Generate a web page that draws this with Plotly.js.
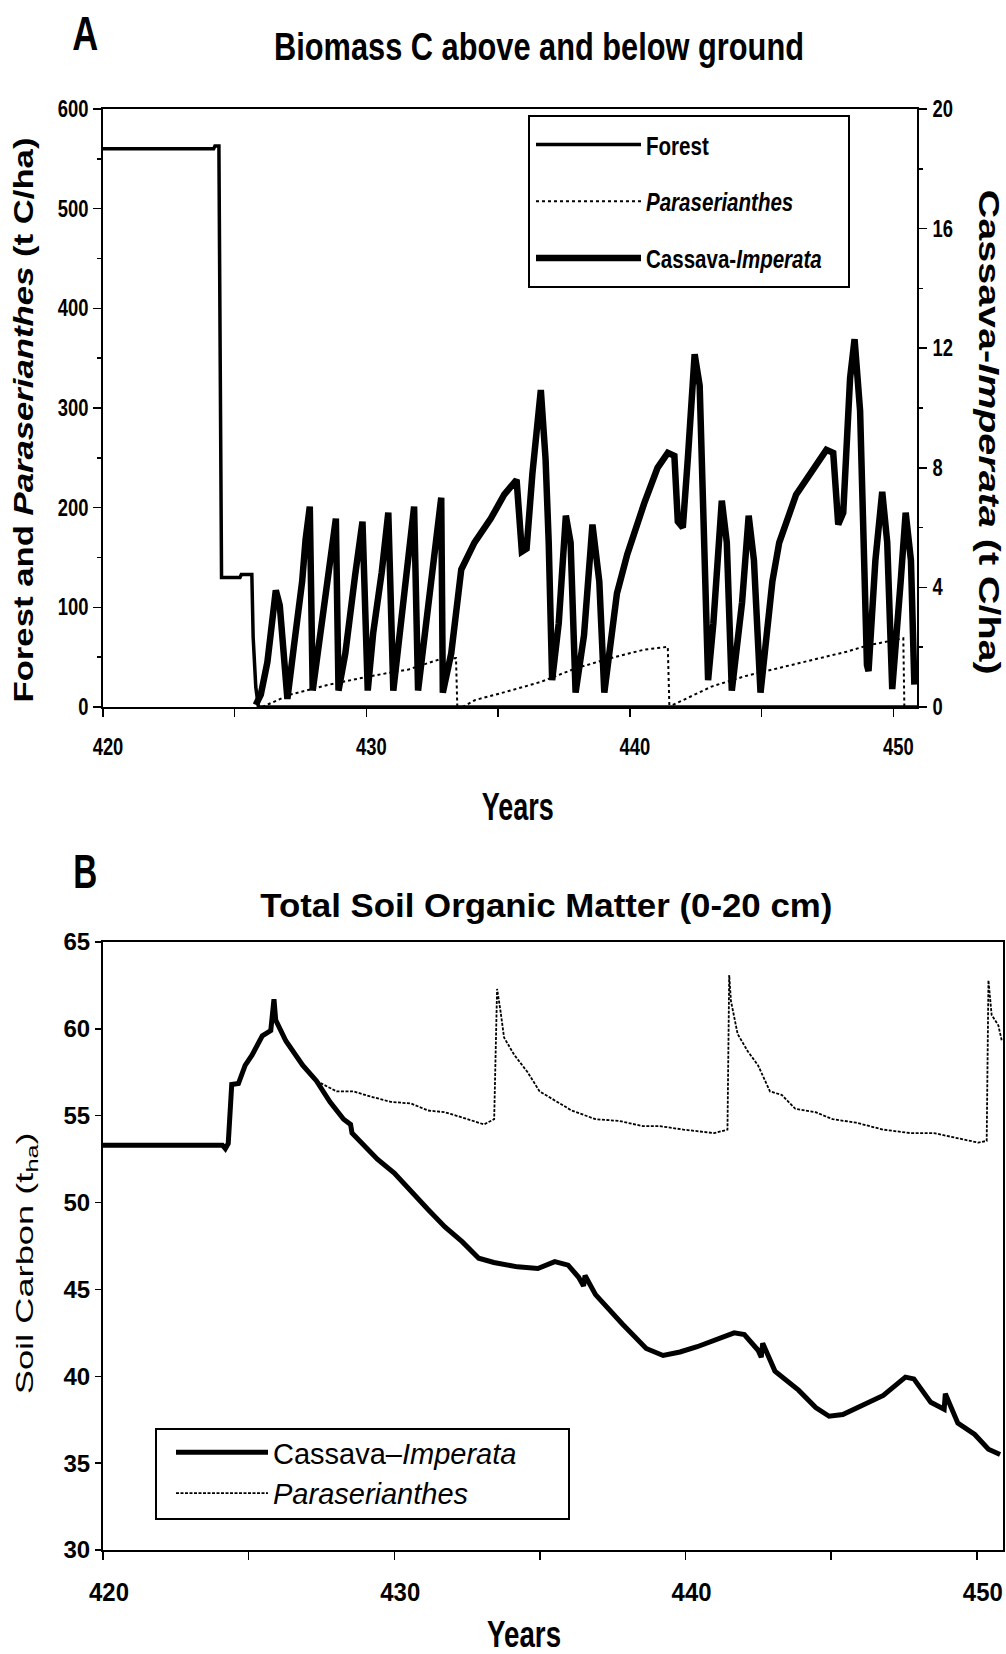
<!DOCTYPE html>
<html><head><meta charset="utf-8">
<script src="https://cdn.plot.ly/plotly-3.0.1.min.js"></script>
<style>html,body{margin:0;padding:0;background:#fff;} #chart{width:1006px;height:1654px;}</style>
</head><body><div id="chart"></div>
<script>
// ---------- Panel A: biomass C ----------
const forestYears = [420, 424.2, 424.25, 424.4, 424.45, 424.5, 425.2, 425.25, 425.65, 425.7, 425.8, 425.9, 450.9];
const forestC     = [560, 560, 563, 563, 344, 130, 130, 133, 133, 70, 20, 0, 0];

const paraYearsA = [426.05, 427.05, 428.6, 430.1, 431.6, 432.8, 433.4, 433.45, null,
                    433.65, 434.13, 435.4, 436.6, 437.97, 439.26, 440.54, 441.44, 441.5, null,
                    441.63, 443.1, 444.38, 445.67, 446.95, 448.23, 449.0, 450.28, 450.38, 450.42];
const paraCA     = [0, 12, 22.5, 30.7, 37.7, 48, 49, 0, null,
                    0, 7, 16, 25, 39, 49, 57.5, 60.4, 0, null,
                    2, 20.5, 31, 39, 47, 55.5, 61.6, 69, 69, 0];

const cassavaYearsA = [425.80, 425.99, 426.24, 426.56, 426.71, 426.87, 427.0, 427.25, 427.56, 427.69, 427.85, 427.96,
  428.19, 428.57, 428.84, 428.94, 429.2, 429.57, 429.85, 430.05, 430.26, 430.58, 430.83, 431.02, 431.27, 431.58,
  431.81, 431.96, 432.21, 432.52, 432.84, 432.9, 433.22, 433.6, 434.1, 434.72, 435.23, 435.7, 435.9, 436.08,
  436.3, 436.62, 436.8, 436.92, 437.05, 437.3, 437.57, 437.75, 437.94, 438.26, 438.58, 438.84, 439.03, 439.51,
  439.9, 440.54, 441.05, 441.44, 441.69, 441.82, 442.01, 442.2, 442.46, 442.65, 442.85, 442.97, 443.17, 443.49,
  443.68, 443.87, 444.26, 444.51, 444.71, 444.96, 445.41, 445.67, 446.31, 446.95, 447.46, 447.72, 447.91, 448.1,
  448.36, 448.53, 448.74, 449.0, 449.06, 449.32, 449.58, 449.77, 449.96, 450.28, 450.47, 450.67, 450.8];
const cassavaCA = [0.07, 0.41, 1.5, 3.9, 3.4, 1.5, 0.27, 2.05, 4.2, 5.6, 6.7, 0.55,
  2.05, 4.2, 6.3, 0.55, 1.8, 4.4, 6.2, 0.55, 2.5, 4.5, 6.5, 0.55, 2.5, 4.5,
  6.7, 0.55, 2.5, 4.8, 7.0, 0.48, 1.8, 4.6, 5.5, 6.3, 7.1, 7.6, 5.2, 5.3,
  7.8, 10.6, 8.3, 5.5, 0.9, 2.8, 6.4, 5.5, 0.48, 2.4, 6.1, 4.2, 0.48, 3.8,
  5.1, 6.8, 8.0, 8.5, 8.4, 6.2, 6.0, 8.3, 11.8, 10.75, 3.5, 0.9, 2.8, 6.9,
  5.5, 0.55, 3.5, 6.4, 4.9, 0.48, 4.2, 5.5, 7.1, 7.9, 8.6, 8.5, 6.1, 6.5,
  11.0, 12.3, 9.9, 1.4, 1.2, 4.9, 7.2, 5.5, 0.6, 4.2, 6.5, 4.9, 0.75];

// ---------- Panel B: soil carbon ----------
const cassavaYearsB = [420, 424.1, 424.2, 424.3, 424.42, 424.65, 424.88, 425.12, 425.47, 425.76, 425.87, 425.93,
  426.28, 426.86, 427.33, 427.79, 428.26, 428.5, 428.55, 428.84, 429.42, 430.0, 430.58, 431.16, 431.74, 432.33,
  432.9, 433.42, 434.23, 434.93, 435.51, 435.97, 436.33, 436.5, 436.55, 436.91, 437.84, 438.65, 439.23, 439.81,
  440.4, 440.98, 441.67, 442.02, 442.49, 442.6, 442.65, 443.07, 443.88, 444.47, 444.93, 445.4, 446.21, 446.79,
  447.55, 447.84, 448.42, 448.88, 448.92, 449.35, 449.93, 450.4, 450.8];
const cassavaSoilC = [53.3, 53.3, 53.1, 53.4, 56.8, 56.85, 57.9, 58.5, 59.6, 59.9, 61.7, 60.5,
  59.3, 57.9, 57.0, 55.8, 54.8, 54.5, 54.0, 53.5, 52.5, 51.7, 50.6, 49.6, 48.6, 47.75,
  46.8, 46.55, 46.3, 46.2, 46.6, 46.4, 45.7, 45.2, 45.8, 44.7, 43.0, 41.6, 41.2, 41.4,
  41.7, 42.1, 42.5, 42.4, 41.5, 41.1, 41.9, 40.3, 39.2, 38.2, 37.7, 37.8, 38.4, 38.9,
  39.95, 39.85, 38.5, 38.1, 39.0, 37.3, 36.65, 35.8, 35.5];

const paraYearsB = [427.33, 428.02, 428.6, 429.19, 429.88, 430.58, 431.16, 431.74, 432.33, 433.08, 433.43,
  433.53, 433.65, 433.77, 434.12, 434.58, 434.99, 435.51, 436.09, 436.91, 437.72, 438.53, 439.12, 439.93,
  440.98, 441.44, 441.5, 441.56, 441.79, 442.14, 442.49, 442.9, 443.3, 443.77, 444.47, 445.05, 445.86,
  446.79, 447.72, 448.53, 449.34, 450.05, 450.34, 450.4, 450.51, 450.74, 450.86];
const paraSoilC = [57.0, 56.4, 56.4, 56.1, 55.8, 55.7, 55.3, 55.2, 54.9, 54.5, 54.8,
  62.3, 61.0, 59.5, 58.5, 57.5, 56.4, 55.9, 55.3, 54.8, 54.7, 54.4, 54.4, 54.2,
  54.0, 54.2, 63.1, 61.6, 59.7, 58.7, 57.9, 56.4, 56.2, 55.4, 55.2, 54.8, 54.6,
  54.2, 54.0, 54.0, 53.7, 53.45, 53.55, 62.8, 60.8, 60.2, 59.3];

// ---------- tick labels ----------
const yearTicks = [420, 430, 440, 450];
const yearMinorTicks = [425, 435, 445];
const biomassTicks = [0, 100, 200, 300, 400, 500, 600];
const cassavaTicks = [0, 4, 8, 12, 16, 20];
const soilTicks = [30, 35, 40, 45, 50, 55, 60, 65];

// ---------- styling ----------
const W = 1006, H = 1654;
const px = v => v / W;
const py = v => 1 - v / H;
const ARIAL = "Liberation Sans, Arial, sans-serif";
const BLK = '#000';

const traces = [
  {x: forestYears, y: forestC, xaxis: 'x', yaxis: 'y', mode: 'lines', name: 'Forest',
   line: {color: BLK, width: 3.5}, legend: 'legend', legendgroup: 'f'},
  {x: paraYearsA, y: paraCA, xaxis: 'x', yaxis: 'y', mode: 'lines', name: '<i>Paraserianthes</i>',
   line: {color: BLK, width: 2, dash: 'dot'}, legend: 'legend', legendgroup: 'p', connectgaps: false},
  {x: cassavaYearsA, y: cassavaCA, xaxis: 'x', yaxis: 'y2', mode: 'lines', name: 'Cassava-<i>Imperata</i>',
   line: {color: BLK, width: 6.5}, legend: 'legend', legendgroup: 'c'},
  {x: cassavaYearsB, y: cassavaSoilC, xaxis: 'x2', yaxis: 'y3', mode: 'lines', name: 'Cassava–<i>Imperata</i>',
   line: {color: BLK, width: 5}, legend: 'legend2', legendgroup: 'cb'},
  {x: paraYearsB, y: paraSoilC, xaxis: 'x2', yaxis: 'y3', mode: 'lines', name: '<i>Paraserianthes</i>',
   line: {color: BLK, width: 1.8, dash: '3px,1.5px'}, legend: 'legend2', legendgroup: 'pb'}
];

const axisCommon = {showline: true, linecolor: BLK, linewidth: 2, showgrid: false, zeroline: false,
  ticks: 'outside', tickcolor: BLK, tickwidth: 1.5, ticklen: 8};
const boldTick = size => ({family: ARIAL, size: size, weight: 'bold', color: BLK});

const layout = {
  width: W, height: H, autosize: false,
  margin: {l: 0, r: 0, t: 0, b: 0},
  paper_bgcolor: '#fff', plot_bgcolor: '#fff',
  showlegend: true,
  title: {text: 'Biomass C above and below ground', x: px(539), y: py(47), xanchor: 'center', yanchor: 'middle',
          xref: 'paper', yref: 'paper', font: {family: ARIAL, size: 38, weight: 'bold', color: BLK}},
  xaxis: Object.assign({}, axisCommon, {domain: [px(103), px(917)], anchor: 'y', range: [420, 450.9],
    tickvals: yearTicks, ticktext: yearTicks.map(String), mirror: true,
    minor: {tickvals: yearMinorTicks, ticks: 'outside', ticklen: 8, tickcolor: BLK, tickwidth: 1.5},
    ticklabelstandoff: 10, ticklabelshift: 5, tickfont: boldTick(23)}),
  yaxis: Object.assign({}, axisCommon, {domain: [py(707), py(109)], anchor: 'x', range: [0, 600],
    tickvals: biomassTicks, ticktext: biomassTicks.map(String), mirror: true,
    minor: {dtick: 50, ticks: 'outside', ticklen: 4, tickcolor: BLK, tickwidth: 1.5},
    ticklabelstandoff: 0, tickfont: boldTick(23)}),
  yaxis2: Object.assign({}, axisCommon, {overlaying: 'y', side: 'right', anchor: 'x', range: [0, 20],
    tickvals: cassavaTicks, ticktext: cassavaTicks.map(String),
    minor: {dtick: 2, ticks: 'outside', ticklen: 4, tickcolor: BLK, tickwidth: 1.5},
    ticklabelstandoff: 1, tickfont: boldTick(23)}),
  xaxis2: Object.assign({}, axisCommon, {domain: [px(103), px(1003)], anchor: 'y3', range: [420, 450.9],
    tickvals: yearTicks, ticktext: yearTicks.map(String), mirror: true,
    minor: {tickvals: yearMinorTicks, ticks: 'outside', ticklen: 8, tickcolor: BLK, tickwidth: 1.5},
    ticklabelstandoff: 10, ticklabelshift: 6, tickfont: boldTick(26)}),
  yaxis3: Object.assign({}, axisCommon, {domain: [py(1550), py(942)], anchor: 'x2', range: [30, 65],
    tickvals: soilTicks, ticktext: soilTicks.map(String), mirror: true, ticklen: 6,
    ticklabelstandoff: 0, tickfont: boldTick(24)}),
  legend: {x: px(531), y: py(121), xanchor: 'left', yanchor: 'top', bgcolor: 'rgba(0,0,0,0)',
    borderwidth: 0, itemwidth: 105, tracegroupgap: 20, traceorder: 'grouped',
    font: {family: ARIAL, size: 26, weight: 'bold', color: BLK}},
  legend2: {x: px(171), y: py(1427), xanchor: 'left', yanchor: 'top', bgcolor: 'rgba(0,0,0,0)',
    borderwidth: 0, itemwidth: 92, tracegroupgap: 0, traceorder: 'grouped',
    font: {family: ARIAL, size: 29, color: BLK}},
  shapes: [
    {type: 'rect', xref: 'paper', yref: 'paper', x0: px(529), x1: px(849), y0: py(287), y1: py(116),
     line: {color: BLK, width: 2}, fillcolor: '#fff', layer: 'above'},
    {type: 'rect', xref: 'paper', yref: 'paper', x0: px(156), x1: px(569), y0: py(1519), y1: py(1429),
     line: {color: BLK, width: 2}, fillcolor: '#fff', layer: 'above'}
  ],
  annotations: [
    {text: 'A', x: px(85), y: py(33), xanchor: 'center', yanchor: 'middle',
     font: {family: ARIAL, size: 48, weight: 'bold', color: BLK}},
    {text: 'Forest and <i>Paraserianthes</i> (t C/ha)', x: px(24), y: py(420), xanchor: 'center', yanchor: 'middle',
     textangle: -90, font: {family: ARIAL, size: 28, weight: 'bold', color: BLK}},
    {text: 'Cassava-<i>Imperata</i> (t C/ha)', x: px(990), y: py(432), xanchor: 'center', yanchor: 'middle',
     textangle: 90, font: {family: ARIAL, size: 30, weight: 'bold', color: BLK}},
    {text: 'Years', x: px(517), y: py(807), xanchor: 'center', yanchor: 'middle',
     font: {family: ARIAL, size: 38, weight: 'bold', color: BLK}},
    {text: 'B', x: px(85), y: py(871), xanchor: 'center', yanchor: 'middle',
     font: {family: ARIAL, size: 48, weight: 'bold', color: BLK}},
    {text: 'Total Soil Organic Matter (0-20 cm)', x: px(546), y: py(905), xanchor: 'center', yanchor: 'middle',
     font: {family: ARIAL, size: 34, weight: 'bold', color: BLK}},
    {text: 'Soil Carbon (t<sub>ha</sub>)', x: px(26), y: py(1264), xanchor: 'center', yanchor: 'middle',
     textangle: -90, font: {family: ARIAL, size: 24, color: BLK}},
    {text: 'Years', x: px(524), y: py(1634), xanchor: 'center', yanchor: 'middle',
     font: {family: ARIAL, size: 36, weight: 'bold', color: BLK}}
  ].map(a => Object.assign({xref: 'paper', yref: 'paper', showarrow: false}, a))
};

// condensed lettering of the original (compress glyph advance, keep height)
function fitText(el, target) {
  const L = el.getComputedTextLength();
  if (!L) return;
  el.setAttribute('textLength', target(L).toFixed(1));
  el.setAttribute('lengthAdjust', 'spacingAndGlyphs');
}
function fitAll(sel, target) {
  document.querySelectorAll(sel).forEach(el => fitText(el, target));
}

Plotly.newPlot('chart', traces, layout, {staticPlot: true, displayModeBar: false}).then(() => {
  const r = k => (L => L * k);
  const fixed = v => (() => v);
  fitAll('.gtitle', fixed(530));
  fitAll('.xtick text, .ytick text, .y2tick text', r(0.8));
  fitAll('.x2tick text', r(0.92));
  fitAll('.legend .legendtext', r(0.79));
  const ann = (i, f) => fitAll('.annotation[data-index="' + i + '"] text', f);
  ann(0, fixed(26));
  ann(1, fixed(565));
  ann(2, fixed(485));
  ann(3, fixed(72));
  ann(4, fixed(24));
  ann(5, fixed(572));
  ann(6, fixed(262));
  ann(7, fixed(74));
});
</script>
</body></html>
